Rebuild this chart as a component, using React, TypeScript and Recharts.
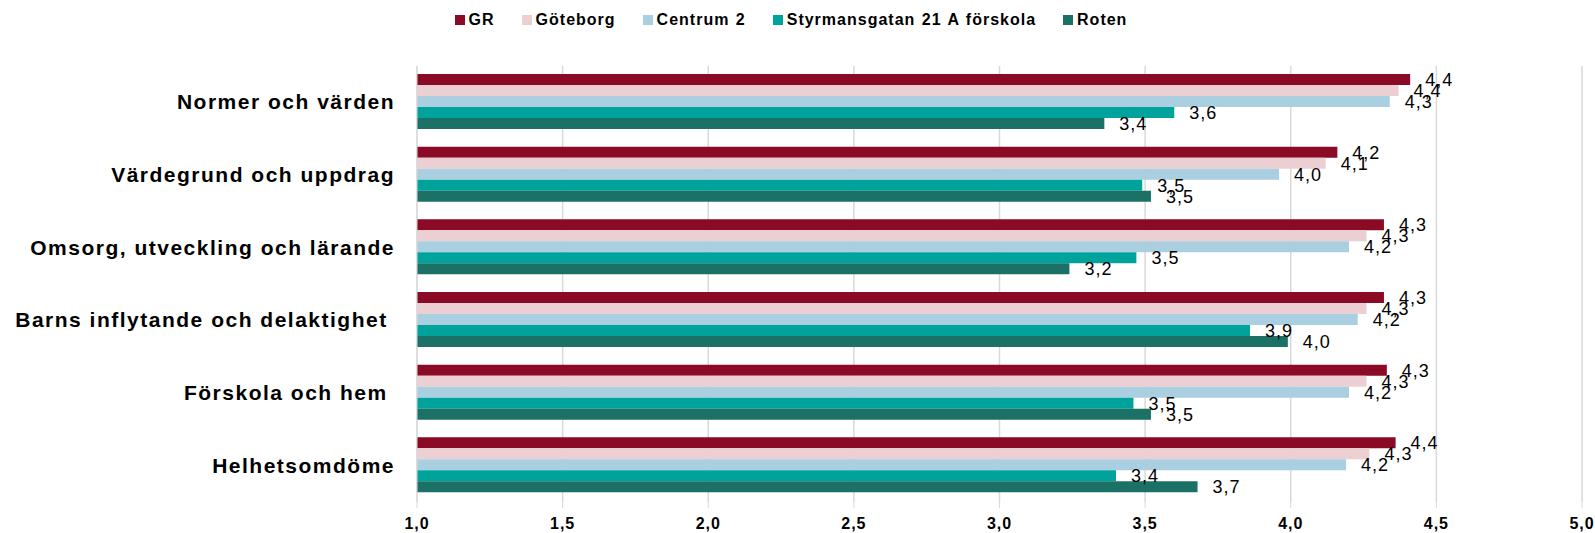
import React from 'react';
import { BarChart, Bar, XAxis, YAxis, CartesianGrid, Legend, LabelList } from 'recharts';

// categories (trailing nbsp kept like in the source sheet)
const categories = [
  'Normer och värden',
  'Värdegrund och uppdrag',
  'Omsorg, utveckling och lärande',
  'Barns inflytande och delaktighet\u00A0',
  'Förskola och hem\u00A0',
  'Helhetsomdöme',
];

const gr = [4.41, 4.16, 4.32, 4.32, 4.33, 4.36];
const goteborg = [4.37, 4.12, 4.26, 4.26, 4.26, 4.27];
const centrum2 = [4.34, 3.96, 4.2, 4.23, 4.2, 4.19];
const styrmans = [3.6, 3.49, 3.47, 3.86, 3.46, 3.4];
const roten = [3.36, 3.52, 3.24, 3.99, 3.52, 3.68];

const xTicks = [1, 1.5, 2, 2.5, 3, 3.5, 4, 4.5, 5];

const series = [
  { key: 'gr', name: 'GR', color: '#8B0A25' },
  { key: 'goteborg', name: 'Göteborg', color: '#EBCFD2' },
  { key: 'centrum2', name: 'Centrum 2', color: '#A9CFE1' },
  { key: 'styrmans', name: 'Styrmansgatan 21 A förskola', color: '#00A39C' },
  { key: 'roten', name: 'Roten', color: '#1C7166' },
];

const rows = categories.map((name, i) => ({
  name,
  gr: gr[i],
  goteborg: goteborg[i],
  centrum2: centrum2[i],
  styrmans: styrmans[i],
  roten: roten[i],
}));

const FONT = '"Liberation Sans", Arial, sans-serif';
const fmt = (v: any) => Number(v).toFixed(1).replace('.', ',');

const CategoryTick = ({ x, y, payload }: any) => (
  <text
    x={x}
    y={y}
    dy={7}
    textAnchor="end"
    fontFamily={FONT}
    fontSize={21}
    fontWeight={700}
    letterSpacing={1.5}
    fill="#000"
  >
    {payload.value}
  </text>
);

const LegendContent = () => (
  <div style={{ height: 58, boxSizing: 'border-box', paddingTop: 2, display: 'flex', justifyContent: 'center', alignItems: 'flex-start' }}>
    {series.map((s, i) => (
      <div
        key={s.key}
        style={{
          display: 'flex',
          alignItems: 'center',
          marginRight: i < series.length - 1 ? 27 : 0,
          fontFamily: FONT,
          fontSize: 16,
          fontWeight: 700,
          letterSpacing: 1,
          wordSpacing: 1,
          color: '#000',
          lineHeight: '20px',
          whiteSpace: 'nowrap',
        }}
      >
        <span style={{ display: 'inline-block', width: 10, height: 10, background: s.color, marginRight: 4 }} />
        {s.name}
      </div>
    ))}
  </div>
);

export default function App() {
  return (
    <div style={{ position: 'absolute', left: 0, top: 0, background: '#fff' }}>
      <BarChart
        width={1595}
        height={533}
        data={rows}
        layout="vertical"
        margin={{ top: 8, right: 13, bottom: 1, left: 0 }}
        barCategoryGap={8}
        barGap={0}
      >
        <Legend verticalAlign="top" align="center" content={<LegendContent />} />
        <CartesianGrid horizontal={false} stroke="#D9D9D9" strokeWidth={1.5} />
        <XAxis
          type="number"
          domain={[1, 5]}
          ticks={xTicks}
          tickFormatter={fmt}
          axisLine={false}
          tickLine={{ stroke: '#D9D9D9' }}
          tickSize={6}
          tickMargin={10}
          height={30}
          tick={{ fontFamily: FONT, fontSize: 16, fontWeight: 700, fill: '#000', letterSpacing: 1 }}
          allowDataOverflow
        />
        <YAxis
          type="category"
          dataKey="name"
          width={417}
          axisLine={{ stroke: '#D9D9D9' }}
          tickLine={false}
          tickSize={0}
          tickMargin={22}
          tick={<CategoryTick />}
          interval={0}
        />
        {series.map((s) => (
          <Bar key={s.key} dataKey={s.key} name={s.name} fill={s.color} isAnimationActive={false}>
            <LabelList
              dataKey={s.key}
              position="right"
              offset={15}
              formatter={fmt}
              style={{ fontFamily: FONT, fontSize: 18, fill: '#000', letterSpacing: 1 }}
            />
          </Bar>
        ))}
      </BarChart>
    </div>
  );
}
